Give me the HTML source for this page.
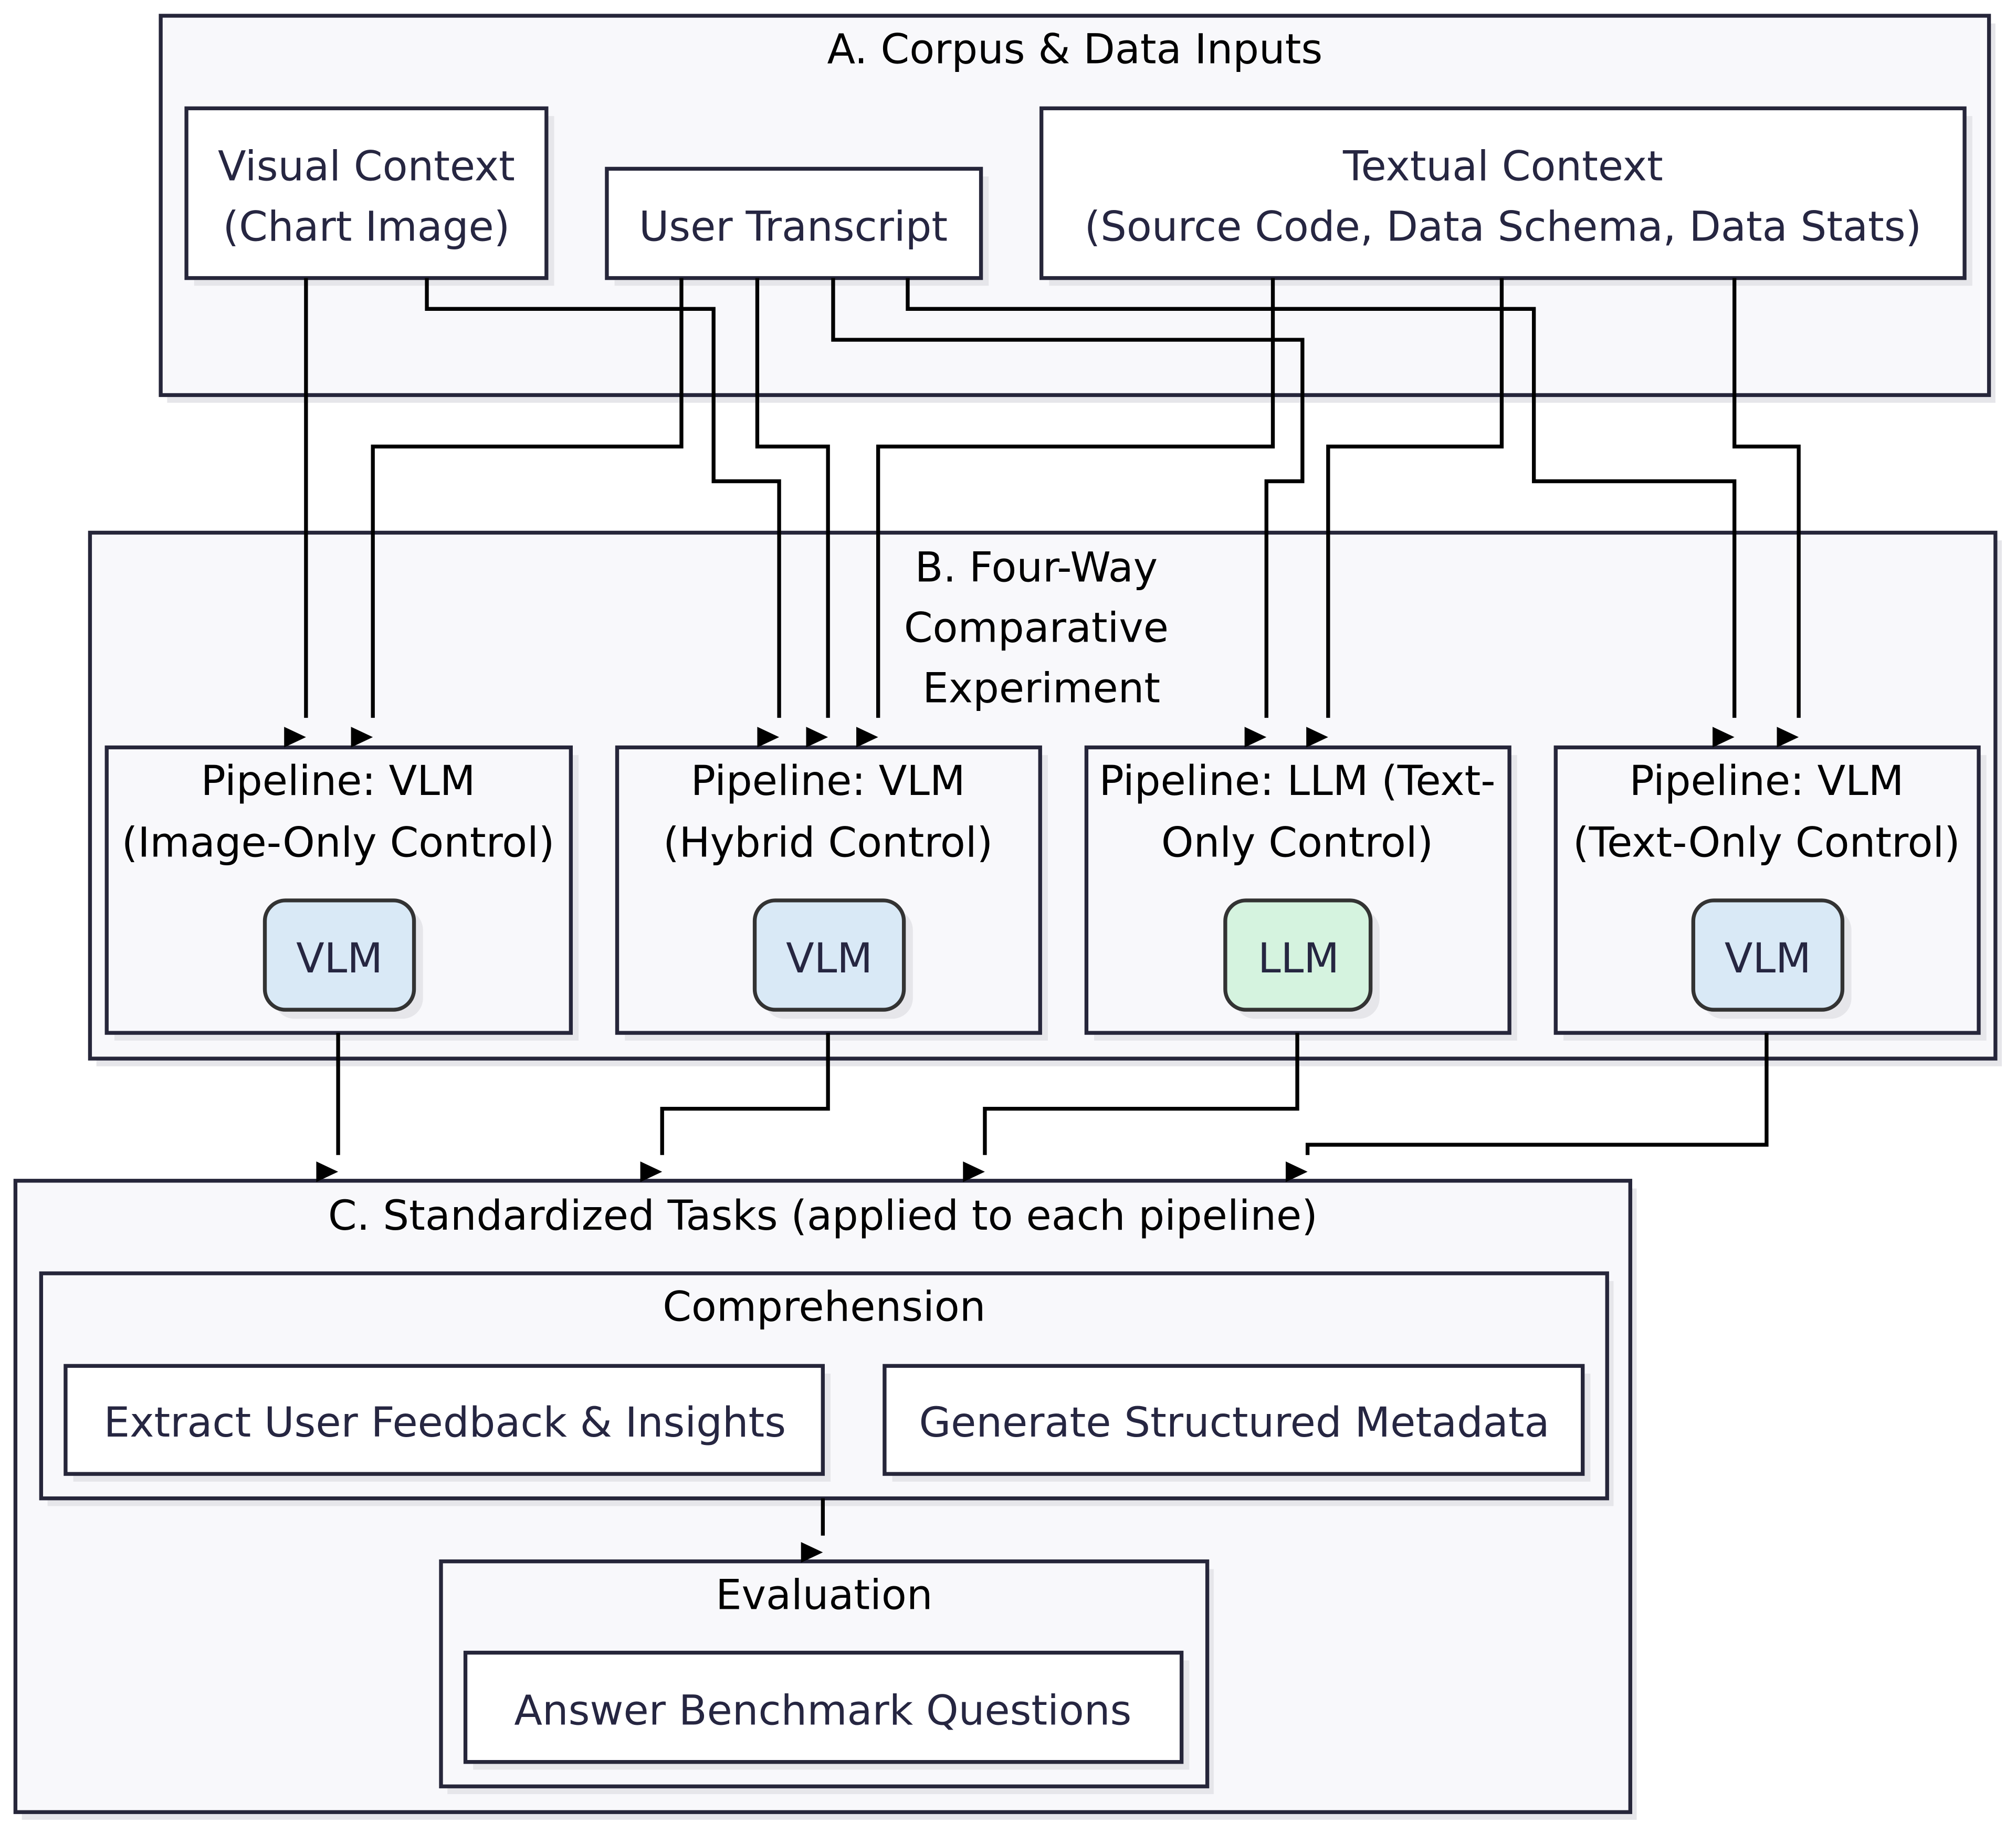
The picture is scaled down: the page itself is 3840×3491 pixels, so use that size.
<!DOCTYPE html>
<html><head><meta charset="utf-8"><style>
html,body{margin:0;padding:0;background:#fff;}
svg{display:block;}
text{font-family:"DejaVu Sans","Liberation Sans",sans-serif;font-size:32px;text-anchor:middle;}
.t{fill:#000;}
.n{fill:#262641;}
.cl{fill:#f8f8fb;stroke:#26263a;stroke-width:3;}
.bx{fill:#fff;stroke:#26263a;stroke-width:3;}
.sh{fill:#e6e6ea;}
.e{fill:none;stroke:#000;stroke-width:3;}
</style></head><body>
<svg width="3840" height="3491" viewBox="0 0 1568 1425" xmlns="http://www.w3.org/2000/svg">
<defs>
<g id="ar"><polygon points="-17,-8 -17,8 0,0" fill="#000"/></g>
</defs>
<rect class="sh" x="130" y="18" width="1422" height="295"/>
<rect class="cl" x="125" y="12" width="1422" height="295"/>
<text class="t" x="836" y="49">A. Corpus &amp; Data Inputs</text>
<rect class="sh" x="151" y="90" width="280" height="132"/>
<rect class="bx" x="145" y="84" width="280" height="132"/>
<text class="n" x="285" y="140">Visual Context</text>
<text class="n" x="285" y="187">(Chart Image)</text>
<rect class="sh" x="478" y="137" width="291" height="85"/>
<rect class="bx" x="472" y="131" width="291" height="85"/>
<text class="n" x="617" y="187">User Transcript</text>
<rect class="sh" x="816" y="90" width="718" height="132"/>
<rect class="bx" x="810" y="84" width="718" height="132"/>
<text class="n" x="1169" y="140">Textual Context</text>
<text class="n" x="1169" y="187">(Source Code, Data Schema, Data Stats)</text>

<rect class="sh" x="75" y="420" width="1482" height="409"/>
<rect class="cl" x="70" y="414" width="1482" height="409"/>
<text class="t" x="806" y="452">B. Four-Way</text>
<text class="t" x="806" y="499">Comparative</text>
<text class="t" x="810" y="546">Experiment</text>

<g>
<rect class="sh" x="89" y="587" width="361" height="222"/>
<rect class="bx" style="fill:#f8f8fb" x="83" y="581" width="361" height="222"/>
<text class="t" x="263" y="618">Pipeline: VLM</text>
<text class="t" x="263" y="666">(Image-Only Control)</text>
<rect class="sh" x="213" y="707" width="116" height="85" rx="16"/>
<rect x="206" y="700" width="116" height="85" rx="16" fill="#d9e9f6" stroke="#333" stroke-width="3"/>
<text class="n" x="264" y="756">VLM</text>

<rect class="sh" x="486" y="587" width="329" height="222"/>
<rect class="bx" style="fill:#f8f8fb" x="480" y="581" width="329" height="222"/>
<text class="t" x="644" y="618">Pipeline: VLM</text>
<text class="t" x="644" y="666">(Hybrid Control)</text>
<rect class="sh" x="594" y="707" width="116" height="85" rx="16"/>
<rect x="587" y="700" width="116" height="85" rx="16" fill="#d9e9f6" stroke="#333" stroke-width="3"/>
<text class="n" x="645" y="756">VLM</text>

<rect class="sh" x="851" y="587" width="329" height="222"/>
<rect class="bx" style="fill:#f8f8fb" x="845" y="581" width="329" height="222"/>
<text class="t" x="1009" y="618">Pipeline: LLM (Text-</text>
<text class="t" x="1009" y="666">Only Control)</text>
<rect class="sh" x="960" y="707" width="113" height="85" rx="16"/>
<rect x="953" y="700" width="113" height="85" rx="16" fill="#d5f3df" stroke="#333" stroke-width="3"/>
<text class="n" x="1010" y="756">LLM</text>

<rect class="sh" x="1216" y="587" width="329" height="222"/>
<rect class="bx" style="fill:#f8f8fb" x="1210" y="581" width="329" height="222"/>
<text class="t" x="1374" y="618">Pipeline: VLM</text>
<text class="t" x="1374" y="666">(Text-Only Control)</text>
<rect class="sh" x="1324" y="707" width="116" height="85" rx="16"/>
<rect x="1317" y="700" width="116" height="85" rx="16" fill="#d9e9f6" stroke="#333" stroke-width="3"/>
<text class="n" x="1375" y="756">VLM</text>
</g>

<rect class="sh" x="17" y="924" width="1256" height="491"/>
<rect class="cl" x="12" y="918" width="1256" height="491"/>
<text class="t" x="640" y="956">C. Standardized Tasks (applied to each pipeline)</text>
<rect class="sh" x="37" y="996" width="1218" height="175"/>
<rect class="cl" x="32" y="990" width="1218" height="175"/>
<text class="t" x="641" y="1027">Comprehension</text>
<rect class="sh" x="57" y="1068" width="589" height="84"/>
<rect class="bx" x="51" y="1062" width="589" height="84"/>
<text class="n" x="346" y="1117">Extract User Feedback &amp; Insights</text>
<rect class="sh" x="694" y="1068" width="543" height="84"/>
<rect class="bx" x="688" y="1062" width="543" height="84"/>
<text class="n" x="960" y="1117">Generate Structured Metadata</text>
<rect class="sh" x="348" y="1220" width="596" height="175"/>
<rect class="cl" x="343" y="1214" width="596" height="175"/>
<text class="t" x="641" y="1251">Evaluation</text>
<rect class="sh" x="368" y="1291" width="557" height="85"/>
<rect class="bx" x="362" y="1285" width="557" height="85"/>
<text class="n" x="640" y="1341">Answer Benchmark Questions</text>

<path class="e" d="M238 216 V558"/>
<path class="e" d="M332 216 V240 H555 V374 H606 V558"/>
<path class="e" d="M530 216 V347 H290 V558"/>
<path class="e" d="M589 216 V347 H644 V558"/>
<path class="e" d="M648 216 V264 H1013 V374 H985 V558"/>
<path class="e" d="M706 216 V240 H1193 V374 H1349 V558"/>
<path class="e" d="M990 216 V347 H683 V558"/>
<path class="e" d="M1168 216 V347 H1033 V558"/>
<path class="e" d="M1349 216 V347 H1399 V558"/>
<use href="#ar" x="238" y="573"/>
<use href="#ar" x="290" y="573"/>
<use href="#ar" x="606" y="573"/>
<use href="#ar" x="644" y="573"/>
<use href="#ar" x="683" y="573"/>
<use href="#ar" x="985" y="573"/>
<use href="#ar" x="1033" y="573"/>
<use href="#ar" x="1349" y="573"/>
<use href="#ar" x="1399" y="573"/>

<path class="e" d="M263 803 V898"/>
<path class="e" d="M644 803 V862 H515 V898"/>
<path class="e" d="M1009 803 V862 H766 V898"/>
<path class="e" d="M1374 803 V890 H1017 V898"/>
<use href="#ar" x="263" y="911"/>
<use href="#ar" x="515" y="911"/>
<use href="#ar" x="766" y="911"/>
<use href="#ar" x="1017" y="911"/>
<path class="e" d="M640 1165 V1194"/>
<use href="#ar" x="640" y="1207"/>
</svg>
</body></html>
